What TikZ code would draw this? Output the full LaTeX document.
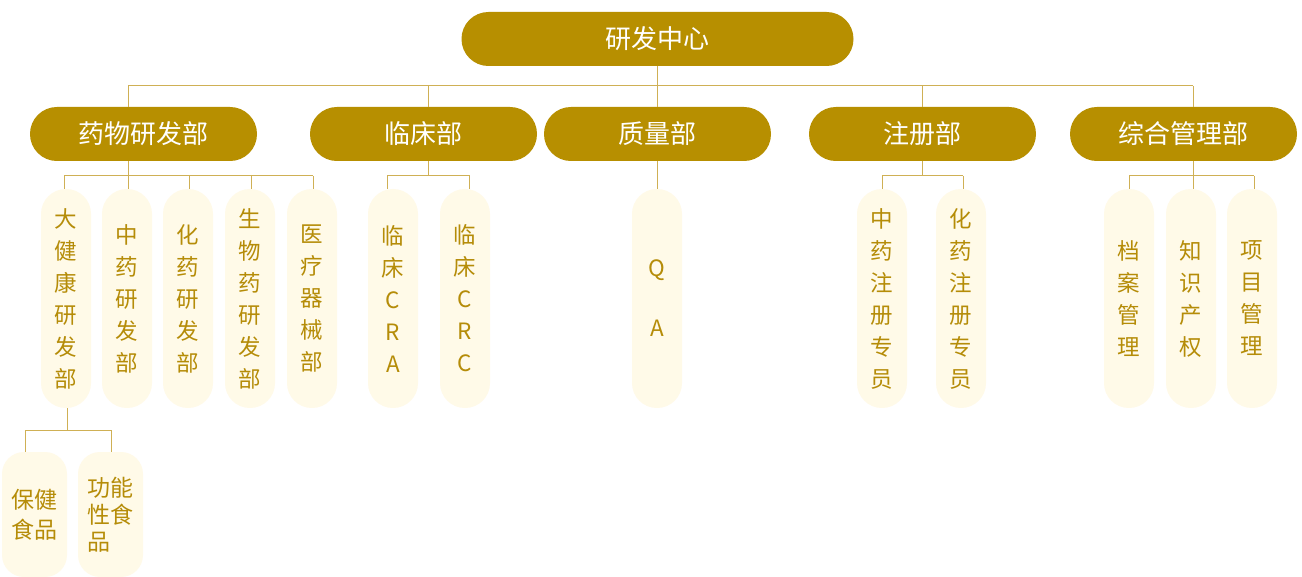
\documentclass[tikz,border=0pt]{standalone}
\usepackage{fontspec}
\setmainfont{Noto Sans CJK SC}
\definecolor{gold}{HTML}{B78F00}
\definecolor{pale}{HTML}{FFFAE8}
\definecolor{goldtext}{HTML}{B58C08}
\definecolor{linec}{HTML}{CFB055}
\begin{document}
\begin{tikzpicture}[x=1pt,y=-1pt,
  top/.style={fill=gold, text=white, rounded corners=26.9pt, minimum width=392pt, minimum height=54pt, inner sep=0pt, font=\fontsize{26}{30}\selectfont},
  dept/.style={fill=gold, text=white, rounded corners=26.9pt, minimum width=227pt, minimum height=54pt, inner sep=0pt, font=\fontsize{26}{30}\selectfont},
  sub/.style={fill=pale, text=goldtext, rounded corners=24.9pt, minimum width=50pt, minimum height=219pt, inner sep=0pt, align=center, font=\fontsize{22.5}{32}\selectfont},
  leaf/.style={fill=pale, text=goldtext, rounded corners=22pt, minimum width=65pt, minimum height=125pt, inner sep=0pt, font=\fontsize{23}{29}\selectfont},
  conn/.style={draw=linec, line width=1pt}
]
\fill[white] (0,0) rectangle (1302,577);
\useasboundingbox (0,0) rectangle (1302,577);

% level 1
\node[top] (root) at (657.5,39) {研发中心};

% level 2
\node[dept] (ywyf) at (143.5,134) {药物研发部};
\node[dept] (lc) at (423.5,134) {临床部};
\node[dept] (zl) at (657.5,134) {质量部};
\node[dept] (zc) at (922.5,134) {注册部};
\node[dept] (zh) at (1183.5,134) {综合管理部};

% level 3
\node[sub] (dj) at (66,298.5) {大\\健\\康\\研\\发\\部};
\node[sub] (zy) at (127,298.5) {中\\药\\研\\发\\部};
\node[sub] (hy) at (188,298.5) {化\\药\\研\\发\\部};
\node[sub] (sw) at (250,298.5) {生\\物\\药\\研\\发\\部};
\node[sub] (yl) at (312,298.5) {医\\疗\\器\\械\\部};
\node[sub] (cra) at (393,298.5) {临\\床\\C\\R\\A};
\node[sub] (crc) at (465,298.5) {临\\床\\C\\R\\C};
\node[sub, font=\fontsize{22.5}{30}\selectfont] (qa) at (657,298.5) {Q\\\mbox{}\\A};
\node[sub] (zyzc) at (882,298.5) {中\\药\\注\\册\\专\\员};
\node[sub] (hyzc) at (961,298.5) {化\\药\\注\\册\\专\\员};
\node[sub] (da) at (1129,298.5) {档\\案\\管\\理};
\node[sub] (zs) at (1191,298.5) {知\\识\\产\\权};
\node[sub] (xm) at (1252,298.5) {项\\目\\管\\理};

% level 4
\node[leaf, align=center, font=\fontsize{23}{30}\selectfont] (bj) at (34.5,514.5) {保健\\食品};
\node[leaf, align=left, font=\fontsize{23}{27}\selectfont] (gn) at (110.5,514.5) {功能\\性食\\品};

% bus coordinates
\coordinate (b0L) at (128,86);
\coordinate (b0R) at (1193,86);
\coordinate (b0lc) at (428,86);
\coordinate (b0zc) at (922,86);

\coordinate (b1L) at (64,176);
\coordinate (b1R) at (313,176);
\coordinate (b1m) at (128,176);
\coordinate (b1h) at (189,176);
\coordinate (b1s) at (251,176);

\coordinate (b2L) at (387,175.5);
\coordinate (b2R) at (469,175.5);
\coordinate (b2m) at (428,175.5);

\coordinate (b3L) at (882,176);
\coordinate (b3R) at (963,176);
\coordinate (b3m) at (922,176);

\coordinate (b4L) at (1129,176);
\coordinate (b4R) at (1254,176);
\coordinate (b4m) at (1193,176);

\coordinate (b5L) at (25,430);
\coordinate (b5R) at (111,430);
\coordinate (b5m) at (67,430);

% connectors level 1 -> 2
\draw[conn] (b0L) -- (b0R);
\draw[conn] (root.south) -- (zl.north);
\draw[conn] (b0L) -- (ywyf.north -| b0L);
\draw[conn] (b0lc) -- (lc.north -| b0lc);
\draw[conn] (b0zc) -- (zc.north -| b0zc);
\draw[conn] (b0R) -- (zh.north -| b0R);

% 药物研发部
\draw[conn] (ywyf.south -| b1m) -- (zy.north -| b1m);
\draw[conn] (b1L) -- (b1R);
\draw[conn] (b1L) -- (dj.north -| b1L);
\draw[conn] (b1h) -- (hy.north -| b1h);
\draw[conn] (b1s) -- (sw.north -| b1s);
\draw[conn] (b1R) -- (yl.north -| b1R);

% 临床部
\draw[conn] (lc.south -| b2m) -- (b2m);
\draw[conn] (b2L) -- (b2R);
\draw[conn] (b2L) -- (cra.north -| b2L);
\draw[conn] (b2R) -- (crc.north -| b2R);

% 质量部
\draw[conn] (zl.south) -- (qa.north -| zl.south);

% 注册部
\draw[conn] (zc.south -| b3m) -- (b3m);
\draw[conn] (b3L) -- (b3R);
\draw[conn] (b3L) -- (zyzc.north -| b3L);
\draw[conn] (b3R) -- (hyzc.north -| b3R);

% 综合管理部
\draw[conn] (zh.south -| b4m) -- (zs.north -| b4m);
\draw[conn] (b4L) -- (b4R);
\draw[conn] (b4L) -- (da.north -| b4L);
\draw[conn] (b4R) -- (xm.north -| b4R);

% 大健康研发部
\draw[conn] (dj.south -| b5m) -- (b5m);
\draw[conn] (b5L) -- (b5R);
\draw[conn] (b5L) -- (bj.north -| b5L);
\draw[conn] (b5R) -- (gn.north -| b5R);
\end{tikzpicture}
\end{document}
